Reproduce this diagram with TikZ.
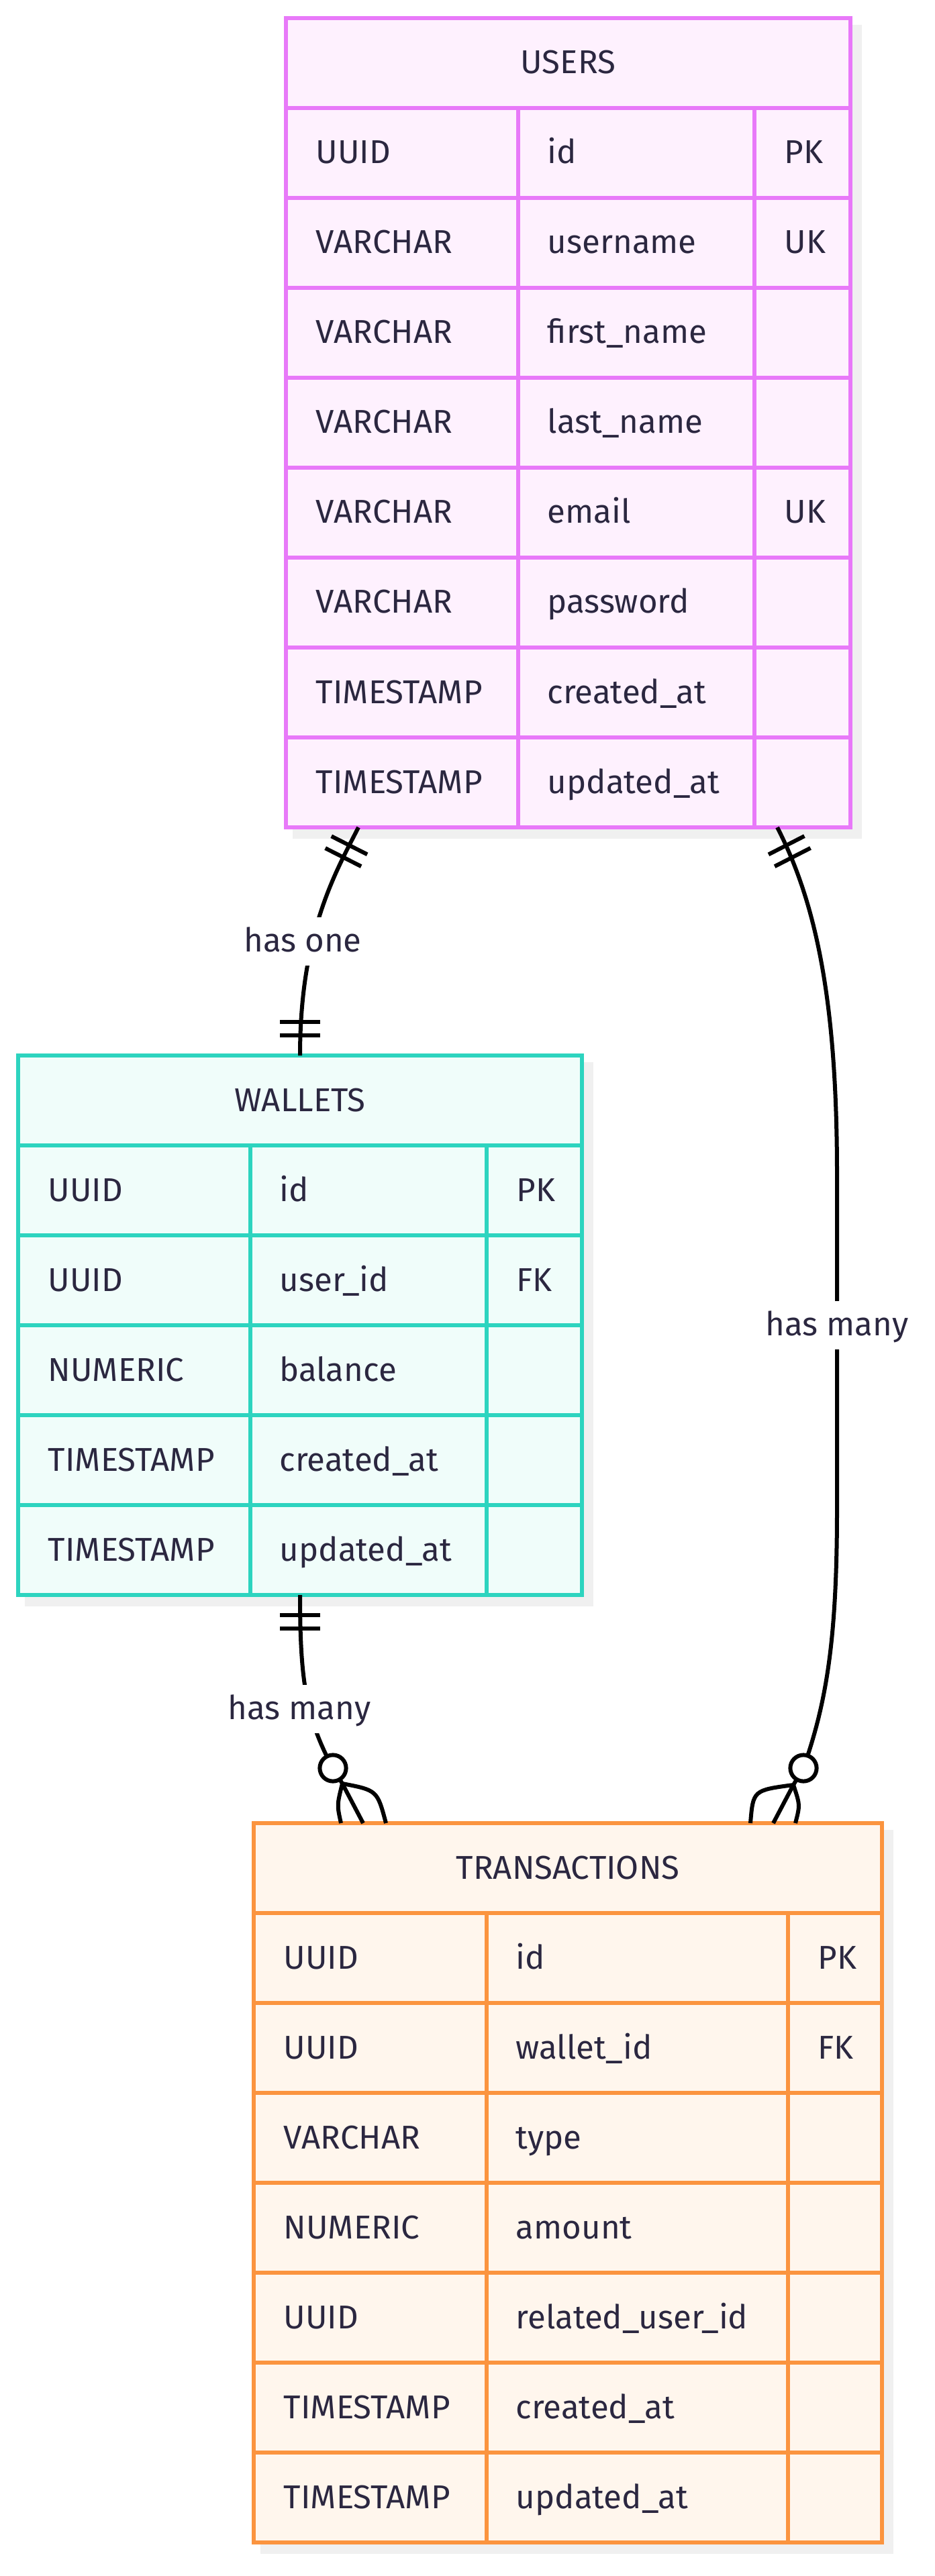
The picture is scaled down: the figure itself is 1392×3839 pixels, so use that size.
\documentclass[tikz,border=0pt]{standalone}
\usepackage{fontspec}
\setmainfont{Fira Sans}
\usetikzlibrary{calc}

\definecolor{ink}{HTML}{2B2740}
\definecolor{usersline}{HTML}{E879F9}
\definecolor{usersfill}{HTML}{FEF1FE}
\definecolor{walletsline}{HTML}{2DD4BF}
\definecolor{walletsfill}{HTML}{F0FDFA}
\definecolor{transline}{HTML}{FB943F}
\definecolor{transfill}{HTML}{FFF6ED}
\definecolor{shadowgray}{HTML}{F0F0F0}

\tikzset{
  erline/.style={draw=#1line, line width=1.625pt},
  cell/.style={anchor=west, inner sep=0pt, text=ink, text height=8pt, text depth=0pt},
  head/.style={cell, anchor=center},
  rel/.style={line width=1.5pt},
  lbl/.style={fill=white, text=ink, inner xsep=1.5pt, inner ysep=0pt, minimum height=18pt, text height=7.5pt, text depth=0pt},
}

% #1 name, #2-#5 column edges, #6 top, #7 number of rows, #8 title, #9 rows
\newcommand{\ertable}[9]{%
  \pgfmathsetmacro{\ybot}{#6+134*(#7+1)}
  \fill[shadowgray] ({#2+10},{#6+10}) rectangle ({#5+17},{\ybot+17});
  \draw[erline=#1, fill=#1fill] (#2,#6) rectangle (#5,\ybot);
  \node[head] (#1) at ({(#2+#5)/2},{#6+67}) {#8};
  \foreach \ta/\tb/\tc [count=\i] in {#9} {
    \pgfmathsetmacro{\yt}{#6+134*\i}
    \draw[erline=#1] (#2,\yt) -- (#5,\yt) (#3,\yt) -- (#3,\yt+134) (#4,\yt) -- (#4,\yt+134);
    \node[cell] (#1-type\i) at (#2+44,\yt+67) {\ta};
    \node[cell] (#1-name\i) at (#3+43,\yt+67) {\tb};
    \node[cell] (#1-key\i) at (#4+44,\yt+67) {\tc};
  }
}

% two bars near end #1 of a line heading to #2
\newcommand{\onebars}[2]{%
  \draw[rel] ($(#1)!7.5pt!(#2)!7.5pt!90:(#2)$) -- ($(#1)!7.5pt!(#2)!7.5pt!-90:(#2)$);
  \draw[rel] ($(#1)!12.5pt!(#2)!7.5pt!90:(#2)$) -- ($(#1)!12.5pt!(#2)!7.5pt!-90:(#2)$);
}

\begin{document}
\begin{tikzpicture}[x=0.25pt, y=-0.25pt, font=\fontsize{12.3}{14}\selectfont]
\useasboundingbox (0,0) rectangle (1392,3839);

\ertable{users}{426}{772}{1124}{1267}{27}{8}{USERS}{UUID/id/PK, VARCHAR/username/UK, VARCHAR/first\_name/{}, VARCHAR/last\_name/{}, VARCHAR/email/UK, VARCHAR/password/{}, TIMESTAMP/created\_at/{}, TIMESTAMP/updated\_at/{}}
\ertable{wallets}{27}{373}{725}{867}{1573}{5}{WALLETS}{UUID/id/PK, UUID/user\_id/FK, NUMERIC/balance/{}, TIMESTAMP/created\_at/{}, TIMESTAMP/updated\_at/{}}
\ertable{trans}{378}{725}{1174}{1314}{2717}{7}{TRANSACTIONS}{UUID/id/PK, UUID/wallet\_id/FK, VARCHAR/type/{}, NUMERIC/amount/{}, UUID/related\_user\_id/{}, TIMESTAMP/created\_at/{}, TIMESTAMP/updated\_at/{}}

% ends of the connectors
\coordinate (usersS1) at (534,1233);
\coordinate (usersS2) at (1158,1233);
\coordinate (walletsN) at (447,1573);
\coordinate (walletsS) at (447,2377);
\coordinate (transN1) at (541,2717);
\coordinate (transN2) at (1152,2717);
\coordinate (oneA) at (500,1300);
\coordinate (oneB) at (447,1390);
\coordinate (manyA) at (1218,1350);
\coordinate (walletsC) at (447,2500);
\coordinate (ring1) at (496,2635);
\coordinate (foot1) at (510,2658);
\coordinate (ring2) at (1197,2635);
\coordinate (foot2) at (1182,2660);

% users has one wallet
\draw[rel] (usersS1) .. controls (oneA) and (oneB) .. (walletsN);
\onebars{usersS1}{oneA}
\onebars{walletsN}{oneB}
\node[lbl] (lblOne) at (451,1403) {has one};

% wallet has many transactions
\draw[rel] (walletsS) .. controls (walletsC) and (455,2560) .. (ring1) -- (foot1);
\draw[rel] (foot1) -- (transN1);
\draw[rel] (foot1) .. controls (502,2690) .. (508,2717);
\draw[rel] (foot1) .. controls (562,2668) .. (575,2717);
\draw[rel, fill=white] (ring1) circle[radius=4.9pt];
\onebars{walletsS}{walletsC}
\node[lbl] (lblMany1) at (446,2547) {has many};

% user has many transactions
\draw[rel] (usersS2) .. controls (manyA) and (1247,1500) .. (1247,1750) -- (1247,2250) .. controls (1247,2450) and (1230,2540) .. (ring2) -- (foot2);
\draw[rel] (foot2) -- (transN2);
\draw[rel] (foot2) .. controls (1122,2668) .. (1118,2717);
\draw[rel] (foot2) .. controls (1192,2690) .. (1185,2717);
\draw[rel, fill=white] (ring2) circle[radius=4.9pt];
\onebars{usersS2}{manyA}
\node[lbl] (lblMany2) at (1247,1975) {has many};
\end{tikzpicture}
\end{document}
